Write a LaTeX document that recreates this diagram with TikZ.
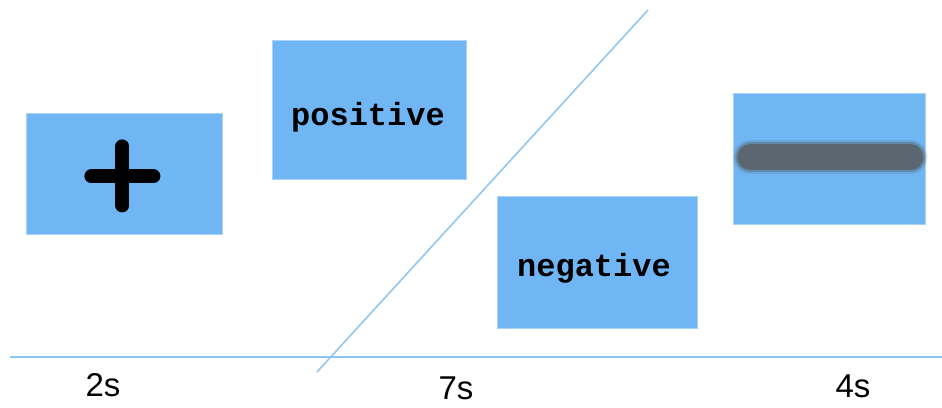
\documentclass[tikz,border=0pt]{standalone}
\usepackage{fontspec}
\setmainfont{Liberation Sans}
\newfontfamily\monofont{Liberation Mono}
\definecolor{boxblue}{RGB}{112,182,245}
\definecolor{lineblue}{RGB}{140,196,242}
\definecolor{bargray}{RGB}{90,103,113}

\begin{document}
\begin{tikzpicture}[x=1pt, y=-1pt,
        stim/.style={rectangle, fill=boxblue, draw=boxblue!60!white, line width=0.8pt, inner sep=0pt, anchor=north west},
        word/.style={font=\monofont\bfseries\fontsize{32}{32}\selectfont, inner sep=0pt},
        dur/.style={font=\fontsize{33}{33}\selectfont, inner sep=0pt},
        axis/.style={draw=lineblue, line width=1.5pt}
    ]
    \useasboundingbox (0,0) rectangle (942,407);

    % Stimulus screens
    \node[stim, minimum width=196pt, minimum height=121pt] (fix) at (26,113) {};
    \node[stim, minimum width=194pt, minimum height=139pt] (pos) at (272,40) {};
    \node[stim, minimum width=200pt, minimum height=132pt] (neg) at (497,196) {};
    \node[stim, minimum width=192pt, minimum height=131pt] (rest) at (733,93) {};

    % Fixation cross
    \draw[line width=14pt, line cap=round] ([xshift=-33pt, yshift=-2.5pt]fix.center) -- ([xshift=29pt, yshift=-2.5pt]fix.center);
    \draw[line width=14pt, line cap=round] ([xshift=-2pt, yshift=-31.5pt]fix.center) -- ([xshift=-2pt, yshift=27.5pt]fix.center);

    % Blurred bar
    \foreach \w/\o in {34/0.2, 30/0.45, 26/1} {
        \draw[bargray, line width=\w pt, line cap=round, opacity=\o] ([xshift=-79pt, yshift=1.5pt]rest.center) -- ([xshift=81pt, yshift=1.5pt]rest.center);
    }

    % Words
    \node[word] (posword) at (368,117) {positive};
    \node[word] (negword) at (594,268.5) {negative};

    % Time axis and split line
    \coordinate (t0) at (10,357);
    \coordinate (t1) at (942,357);
    \coordinate (d0) at (317,372);
    \coordinate (d1) at (648,10);
    \draw[axis] (t0) -- (t1);
    \draw[axis] (d0) -- (d1);

    % Durations
    \node[dur] (dfix) at (103,385) {2s};
    \node[dur] (dword) at (456,388) {7s};
    \node[dur] (drest) at (853,386) {4s};

\end{tikzpicture}
\end{document}
